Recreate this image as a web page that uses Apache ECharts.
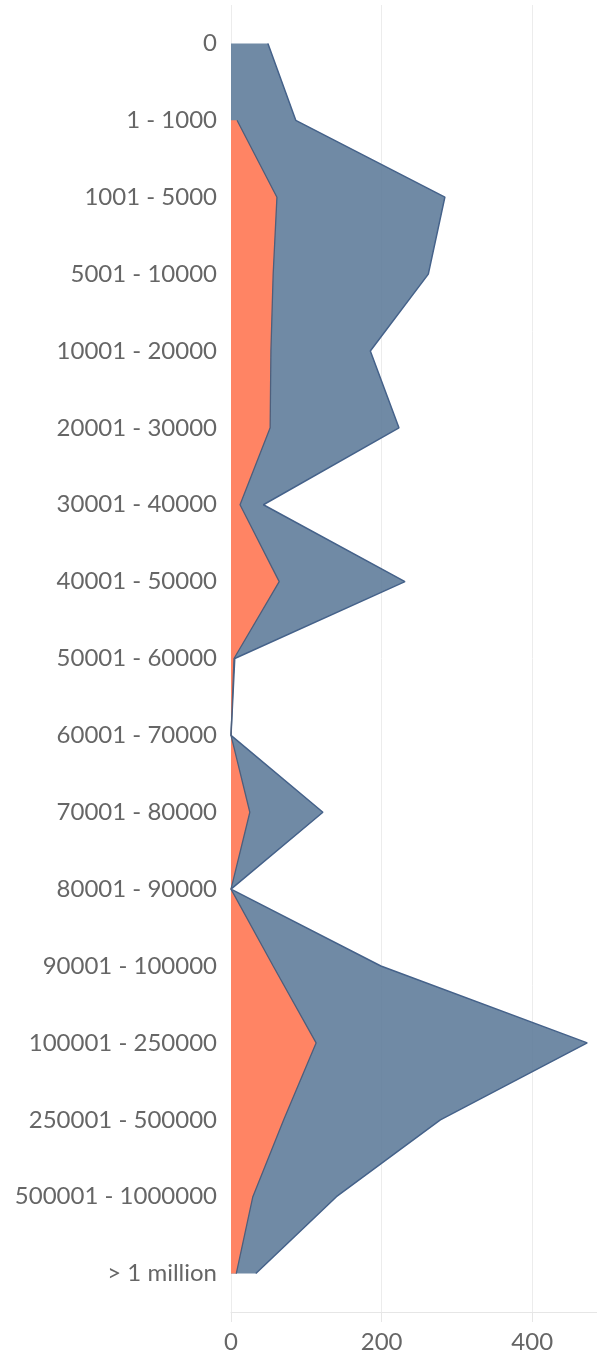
<!DOCTYPE html>
<html>
<head>
<meta charset="utf-8">
<title>chart</title>
<script src="https://cdn.jsdelivr.net/npm/echarts@6/dist/echarts.min.js"></script>
<style>
  html, body { margin: 0; padding: 0; background: #fff; }
  #chart { width: 597px; height: 1355px; }
</style>
</head>
<body>
<div id="chart"></div>
<script>
// categories, top to bottom
var categories = ['0', '1 - 1000', '1001 - 5000', '5001 - 10000', '10001 - 20000',
  '20001 - 30000', '30001 - 40000', '40001 - 50000', '50001 - 60000', '60001 - 70000',
  '70001 - 80000', '80001 - 90000', '90001 - 100000', '100001 - 250000',
  '250001 - 500000', '500001 - 1000000', '> 1 million'];

// outer (blue) area values
var blueValues = [49, 86, 284, 262, 185, 223, 43, 231, 5, 0, 122, 0, 199, 473, 278, 140, 33];
// inner (orange) area values, none for the first bucket
var orangeValues = [null, 8, 61, 56, 53, 52, 12, 64, 4, 0, 25, 0, 56, 113, 70, 29, 7];

var xTicks = [0, 200, 400];

var chart = echarts.init(document.getElementById('chart'));

var option = {
  animation: false,
  grid: { left: 231, right: 0, top: 5, bottom: 43 },
  xAxis: {
    type: 'value',
    min: 0,
    max: 486,
    interval: 200,
    axisLine: { show: true, lineStyle: { color: '#e6e6e6', width: 1 } },
    axisTick: { show: true, length: 10, lineStyle: { color: '#e6e6e6' } },
    axisLabel: {
      color: '#666', fontSize: 24, fontFamily: 'Lato', margin: 18,
      showMaxLabel: false,
      formatter: function (v) { return xTicks.indexOf(v) >= 0 ? String(v) : ''; }
    },
    splitLine: { show: true, lineStyle: { color: '#ececec', width: 1 } }
  },
  yAxis: {
    type: 'category',
    data: categories,
    inverse: true,
    boundaryGap: true,
    axisLine: { show: false },
    axisTick: { show: false },
    axisLabel: { color: '#666', fontSize: 24, fontFamily: 'Lato', margin: 14 }
  },
  series: [
    {
      name: 'blue',
      type: 'line',
      data: blueValues,
      showSymbol: false,
      symbol: 'none',
      lineStyle: { color: '#45628a', width: 1.5 },
      areaStyle: { color: 'rgba(97,125,155,0.9)', opacity: 1 },
      z: 2
    },
    {
      name: 'orange',
      type: 'line',
      data: orangeValues,
      showSymbol: false,
      symbol: 'none',
      lineStyle: { color: '#4e5f7c', width: 1.3 },
      areaStyle: { color: '#ff8464', opacity: 1 },
      z: 3
    }
  ]
};

chart.setOption(option);
window.onresize = function () { chart.resize(); };
</script>
</body>
</html>
